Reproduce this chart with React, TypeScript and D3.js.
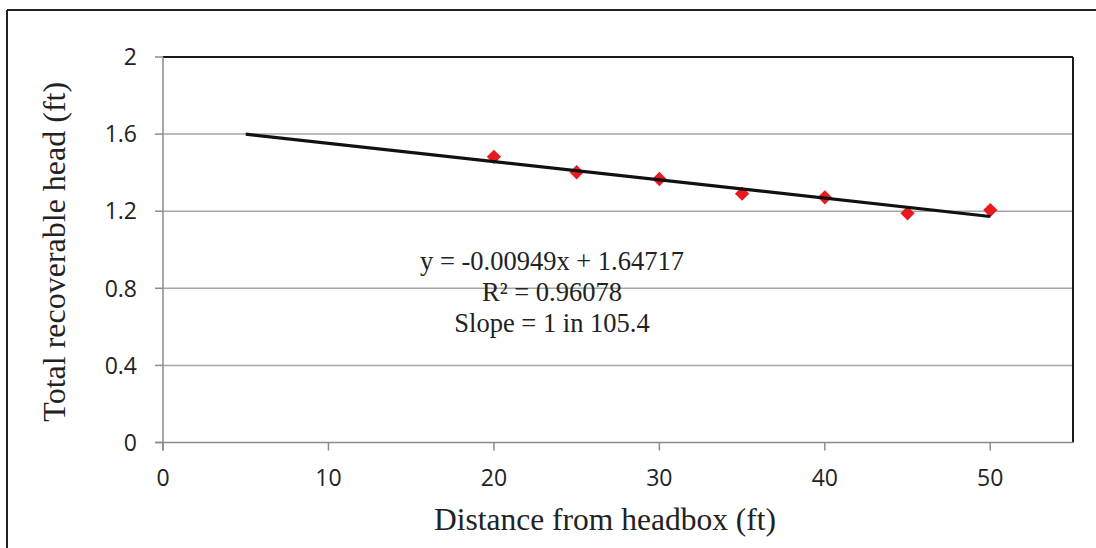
import React from "react";
import * as d3 from "d3";

const distances = [20, 25, 30, 35, 40, 45, 50];
const heads = [1.482, 1.402, 1.367, 1.291, 1.272, 1.189, 1.206];
const trendSlope = -0.00949;
const trendIntercept = 1.64717;
const trendRange = [5, 50];
const xTicks = [0, 10, 20, 30, 40, 50];
const yTicks = [0, 0.4, 0.8, 1.2, 1.6, 2];
const equationLines = ["y = -0.00949x + 1.64717", "R² = 0.96078", "Slope = 1 in 105.4"];

export default function App() {
  const W = 1096, H = 548;
  const left = 163, right = 1073, top = 57, bottom = 442.5;
  const x = d3.scaleLinear().domain([0, 55]).range([left, right]);
  const y = d3.scaleLinear().domain([0, 2]).range([bottom, top]);
  const trend = trendRange.map((v) => [x(v), y(trendSlope * v + trendIntercept)] as [number, number]);
  const line = d3.line();
  const diamond = d3.symbol().type(d3.symbolDiamond2).size(130)();
  const tickFont = "'Open Sans', 'Noto Sans', sans-serif";
  const serif = "'Liberation Serif', 'Times New Roman', serif";
  return (
    <svg width={W} height={H} style={{ position: "absolute", left: 0, top: 0 }}>
      <rect width={W} height={H} fill="#fff" />
      <line x1={7} x2={W} y1={10} y2={10} stroke="#222" strokeWidth={2} />
      <line x1={7} x2={7} y1={10} y2={H} stroke="#222" strokeWidth={2} />
      {yTicks.filter((t) => t > 0 && t < 2).map((t) => (
        <line key={t} x1={left} x2={right} y1={y(t)} y2={y(t)} stroke="#a6a6a6" strokeWidth={1.5} />
      ))}
      <line x1={left} x2={right} y1={top} y2={top} stroke="#1a1a1a" strokeWidth={2} />
      <line x1={right} x2={right} y1={top} y2={bottom} stroke="#1a1a1a" strokeWidth={2} />
      <line x1={left} x2={left} y1={top} y2={bottom + 8} stroke="#8c8c8c" strokeWidth={1.5} />
      <line x1={left - 8} x2={right} y1={bottom} y2={bottom} stroke="#8c8c8c" strokeWidth={1.5} />
      {yTicks.map((t) => (
        <g key={t}>
          <line x1={left - 8} x2={left} y1={y(t)} y2={y(t)} stroke="#8c8c8c" strokeWidth={1.5} />
          <text x={137} y={y(t)} dy="0.36em" textAnchor="end" fontFamily={tickFont} fontSize={23} fill="#222">
            {t}
          </text>
        </g>
      ))}
      {xTicks.map((t) => (
        <g key={t}>
          <line x1={x(t)} x2={x(t)} y1={bottom} y2={bottom + 8} stroke="#8c8c8c" strokeWidth={1.5} />
          <text x={x(t)} y={486} textAnchor="middle" fontFamily={tickFont} fontSize={23} fill="#222">
            {t}
          </text>
        </g>
      ))}
      {distances.map((d, i) => (
        <path key={d} d={diamond!} transform={`translate(${x(d)},${y(heads[i])})`} fill="#e8191f" />
      ))}
      <path d={line(trend)!} stroke="#111" strokeWidth={3.2} fill="none" />
      {equationLines.map((s, i) => (
        <text key={i} x={552} y={270 + i * 31} textAnchor="middle" fontFamily={serif} fontSize={26.5} fill="#222">
          {s}
        </text>
      ))}
      <text x={605} y={530} textAnchor="middle" fontFamily={serif} fontSize={31.5} fill="#222">
        Distance from headbox (ft)
      </text>
      <text transform={`translate(65,${(top + bottom) / 2 + 2}) rotate(-90)`} textAnchor="middle" fontFamily={serif} fontSize={32} fill="#222">
        Total recoverable head (ft)
      </text>
    </svg>
  );
}
